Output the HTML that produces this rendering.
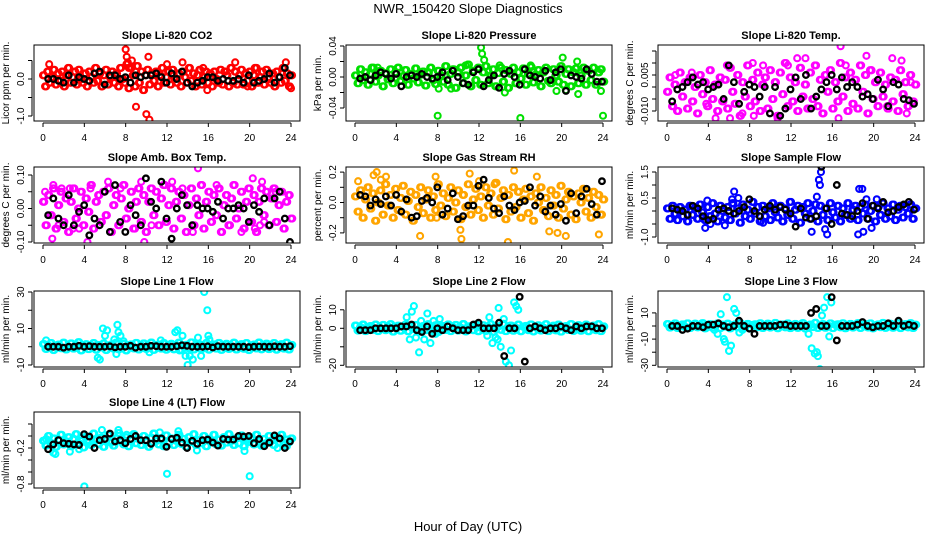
<!DOCTYPE html>
<html><head><meta charset="utf-8"><style>
body{margin:0;background:#fff;width:936px;height:540px;overflow:hidden}
svg{font-family:"Liberation Sans",Arial,sans-serif}
</style></head><body>
<svg id="chart" width="936" height="540" viewBox="0 0 936 540">
<text x="468" y="13" text-anchor="middle" font-size="13">NWR_150420  Slope Diagnostics</text>
<text x="468" y="531" text-anchor="middle" font-size="13">Hour of Day (UTC)</text>
</svg>
<script>
const xTicks=[0,4,8,12,16,20,24];
const co2Main=[0.1,-0.2,0.2,-0.1,0.05,0.25,-0.15,0.15,-0.05,0.2,-0.2,0.1,0.3,-0.1,0.05,0.2,-0.15,0.25,0,-0.1,0.15,-0.2,0.2,0.05,-0.1,0.3,-0.05,0.15,-0.2,0.1,0.25,-0.15,0.05,0.2,-0.1,0.15,-0.2,0.3,0,-0.1,0.4,-0.25,0.3,0.1,-0.2,0.35,-0.1,0.2,-0.3,0.1,0.25,-0.15,0.15,-0.05,0.2,-0.2,0.1,0.3,-0.1,0.05,0.2,-0.15,0.25,0,-0.1,0.15,-0.2,0.2,0.05,-0.1,0.3,-0.05,0.15,-0.2,0.1,0.25,-0.15,0.05,0.2,-0.1,0.15,-0.2,0.2,0,-0.1,0.25,-0.15,0.2,0.1,-0.2,0.3,-0.1,0.2,-0.15,0.1,0.25,-0.15,0.15,-0.05,0.2,-0.2,0.1,0.3,-0.1,0.05,0.2,-0.15,0.25,0,-0.1,0.15,-0.2,0.2,0.05,-0.1,0.3,-0.05,0.15,-0.2,0.1];
const co2OutH=[0.6,8.0,8.1,8.2,8.3,8.6,9.0,10.0,10.3,10.2,12.0,13.5,15.5,15.9,18.6,19.8,20.5,23.5,24.0];
const co2OutV=[0.4,0.8,0.6,0.45,0.3,0.5,-0.75,-0.95,-1.1,0.6,0.4,0.45,0.3,-0.3,0.45,-0.2,0.3,0.45,-0.25];
const co2Black=[0.0,0.0,-0.05,-0.1,0.1,-0.1,0.05,0.0,-0.05,0.15,0.2,-0.15,0.1,0.1,0.0,0.05,-0.1,0.1,0.05,0.1,0.1,0.15,0.05,-0.1,0.15,0.0,0.2,-0.1,-0.2,-0.1,-0.05,0.05,0.05,-0.05,0.0,-0.05,-0.05,0.0,-0.1,0.1,-0.1,-0.05,0.0,0.15,-0.1,0.05,0.3,0.1];
const presMain=[0.002,-0.008,0.01,-0.004,0.006,-0.01,0.004,0.012,-0.006,0.002,0.008,-0.012,0.005,-0.003,0.01,-0.008,0.006,0.012,-0.005,0.001,0.009,-0.01,0.004,-0.002,0.011,-0.007,0.003,0.007,-0.011,0.006,0.012,-0.004,-0.009,0.008,0.002,-0.006,0.014,-0.01,0.004,0.01,-0.014,0.006,0.012,-0.008,0.002,0.016,-0.012,0.008,-0.004,0.012,-0.01,0.006,0.014,-0.008,0.002,0.01,-0.012,0.005,0.012,-0.006,0.009,-0.014,0.004,0.012,-0.008,0.006,-0.002,0.011,-0.01,0.004,0.013,-0.007,0.003,0.009,-0.012,0.006,0.012,-0.005,-0.008,0.01,0.002,-0.006,0.014,-0.01,0.004,0.01,-0.012,0.006,0.011,-0.008,0.002,0.012,-0.01,0.008,-0.004,0.012,-0.01,0.006,0.01,-0.006];
const presOutH=[1.6,2.2,8.0,8.1,9.3,10.7,12.2,12.3,12.5,14.0,14.5,16.0,17.0,19.5,20.1,20.4,21.5,21.6,23.8,24.0];
const presOutV=[0.012,0.012,-0.05,-0.015,-0.015,0.015,0.038,0.03,0.022,0.015,-0.02,-0.053,0.015,-0.018,0.025,-0.017,0.02,-0.022,-0.018,-0.05];
const presBlack=[-0.002,0.0,-0.004,0.002,0.006,0.004,-0.002,0.004,-0.012,0.0,0.002,0.0,0.004,0.0,-0.002,0.0,0.006,-0.004,0.008,0.0,-0.008,-0.01,0.006,0.01,-0.012,-0.004,0.002,-0.014,0.004,0.008,0.0,-0.01,0.01,0.002,0.0,-0.002,0.008,-0.004,0.006,0.01,-0.018,0.002,0.0,-0.002,0.01,0.004,-0.006,-0.006];
const tempMain=[-0.002,0.004,-0.008,0.001,-0.01,0.006,-0.004,0.002,-0.009,0.004,-0.006,0.0,-0.011,0.005,-0.003,0.002,-0.008,0.007,-0.005,0.001,-0.01,0.004,-0.006,0.003,-0.009,0.008,-0.002,-0.007,0.005,-0.012,0.002,-0.004,0.009,-0.008,0.003,-0.006,0.006,-0.01,0.001,0.004,-0.009,0.007,-0.005,0.002,-0.012,0.006,-0.003,0.01,-0.008,0.004,-0.006,0.002,-0.01,0.008,-0.004,0.001,-0.009,0.006,-0.005,0.009,-0.008,0.003,-0.011,0.005,-0.002,0.007,-0.009,0.002,-0.006,0.01,-0.004,0.004,-0.01,0.006,-0.007,0.003,-0.009,0.009,-0.002,0.005,-0.011,0.007,-0.005,0.002,-0.008,0.006,-0.004,0.001,-0.009,0.004,-0.006,0.003,-0.01,0.007,-0.003,0.002,-0.008,0.005,-0.006,0.001];
const tempOutH=[0.8,2.4,3.8,4.7,5.8,6.1,7.3,8.3,8.4,9.3,9.9,10.7,11.7,12.6,13.4,16.8,16.6,17.3,19.3,19.8,21.3,21.8,22.7,23.2,23.6];
const tempOutV=[0.005,0.006,-0.007,-0.013,0.009,-0.013,-0.011,0.01,-0.012,0.009,-0.016,-0.013,0.009,0.012,0.012,0.017,-0.013,0.009,0.013,0.007,-0.008,0.012,0.011,-0.011,0.002];
const tempBlack=[-0.006,-0.001,0.0,0.002,0.004,0.001,0.002,-0.001,0.0,0.001,-0.005,0.009,0.002,-0.007,-0.002,0.001,0.0,-0.004,0.0,-0.011,0.0,-0.012,-0.009,-0.001,0.004,-0.005,0.005,-0.009,-0.004,-0.001,0.002,0.005,-0.001,0.004,0.0,0.002,0.0,-0.004,-0.003,-0.005,0.003,-0.001,-0.008,0.002,0.001,-0.005,-0.0055,-0.007];
const ambMain=[0.02,-0.05,0.04,-0.02,0.06,-0.06,0.01,0.05,-0.04,0.03,-0.07,0.02,0.06,-0.03,0.0,0.05,-0.05,0.03,-0.01,0.07,-0.06,0.02,0.04,-0.04,0.05,-0.02,0.06,-0.07,0.01,0.04,-0.05,0.03,0.07,-0.03,0.0,0.05,-0.06,0.02,0.06,-0.04,0.04,-0.07,0.02,0.06,-0.02,0.05,-0.05,0.03,0.07,-0.04,0.01,0.06,-0.06,0.02,0.05,-0.03,0.04,-0.07,0.01,0.06,-0.05,0.03,-0.02,0.07,-0.06,0.02,0.05,-0.04,0.04,-0.02,0.06,-0.07,0.01,0.04,-0.05,0.03,0.07,-0.03,0.0,0.05,-0.06,0.02,0.06,-0.04,0.04,-0.07,0.02,0.06,-0.02,0.05,-0.05,0.03,0.06,-0.04,0.01,0.05,-0.06,0.02,0.04,-0.03];
const ambOutH=[0.2,0.9,1.0,1.5,1.8,2.6,2.9,3.5,4.3,4.6,6.3,7.5,8.9,9.5,9.8,10.5,11.8,12.5,13.5,14.5,15.0,16.8,18.1,19.2,20.3,20.5,21.0,21.2,21.4,22.5];
const ambOutV=[0.05,-0.09,0.07,-0.05,0.06,0.06,-0.06,-0.06,-0.1,0.06,0.08,0.06,-0.06,0.08,-0.1,-0.05,0.07,0.08,0.06,-0.07,0.12,0.07,-0.05,-0.07,0.09,-0.06,-0.05,0.08,-0.04,0.05];
const ambBlack=[-0.02,0.03,-0.03,-0.05,0.04,-0.05,-0.01,0.01,-0.08,-0.03,-0.05,0.05,-0.07,0.07,-0.04,-0.07,0.01,-0.02,-0.05,0.09,0.02,0.0,0.08,-0.03,-0.09,0.0,0.04,0.01,-0.05,0.01,0.0,0.0,-0.01,0.02,-0.03,0.0,0.0,0.01,0.0,-0.04,0.01,-0.01,0.03,-0.05,0.03,0.05,-0.03,-0.1];
const rhMain=[0.04,-0.06,0.08,-0.1,0.02,0.1,-0.04,0.06,-0.12,0.0,0.08,-0.08,0.12,-0.02,0.05,-0.1,0.09,-0.05,0.03,0.11,-0.08,0.01,0.07,-0.12,0.05,-0.03,0.1,-0.07,0.02,0.08,-0.1,0.04,-0.05,0.12,-0.02,0.06,-0.09,0.03,0.1,-0.06,0.0,0.08,-0.11,0.05,-0.03,0.12,-0.08,0.02,0.09,-0.05,0.04,-0.1,0.1,-0.02,0.06,-0.08,0.13,-0.04,0.03,0.08,-0.11,0.05,-0.06,0.1,-0.03,0.07,-0.1,0.02,0.09,-0.07,0.04,-0.12,0.06,0.0,0.1,-0.05,0.03,-0.09,0.08,-0.02,0.05,-0.1,0.11,-0.04,0.02,0.07,-0.08,0.04,-0.11,0.06,0.0,0.09,-0.06,0.03,-0.1,0.07,-0.03,0.05,-0.08,0.02];
const rhOutH=[0.3,1.8,2.1,2.5,3.0,6.3,7.8,10.2,10.3,11.1,12.0,14.8,15.4,18.8,19.6,20.4,23.6,23.9,7.9,13.5,17.6];
const rhOutV=[0.14,0.18,0.2,0.15,0.17,-0.22,0.17,-0.18,-0.24,0.19,0.14,-0.26,0.21,-0.19,-0.2,-0.22,-0.21,-0.08,-0.1,0.12,0.17];
const rhBlack=[0.05,0.04,-0.02,0.02,-0.01,0.04,-0.02,0.05,-0.06,0.02,-0.1,-0.09,0.01,0.03,0.0,0.1,-0.08,-0.04,0.06,-0.11,-0.09,-0.02,-0.02,0.11,0.15,0.03,-0.04,-0.07,0.04,-0.02,-0.05,0.0,0.01,0.1,-0.02,0.04,-0.06,-0.02,-0.08,-0.01,-0.12,0.06,-0.07,0.04,0.09,-0.01,-0.08,0.14];
const sfMain=[0.1,-0.3,0.2,-0.1,-0.35,0.15,-0.2,0.05,-0.4,0.2,-0.15,0.1,-0.3,0.25,-0.05,-0.35,0.15,-0.2,0.3,-0.1,-0.4,0.2,0.0,-0.25,0.15,-0.35,0.3,-0.1,0.1,-0.45,0.25,-0.2,0.05,-0.3,0.35,-0.1,0.15,-0.4,0.2,-0.2,0.1,-0.35,0.3,-0.05,-0.25,0.2,-0.4,0.1,-0.15,0.35,-0.3,0.05,0.2,-0.45,0.15,-0.1,0.3,-0.3,0.0,0.25,-0.4,0.2,-0.15,0.1,-0.35,0.3,-0.05,-0.25,0.2,-0.4,0.1,-0.15,0.3,-0.3,0.05,0.2,-0.35,0.15,-0.1,0.25,-0.3,0.0,0.2,-0.4,0.15,-0.15,0.3,-0.3,0.1,-0.2,0.25,-0.35,0.05,0.2,-0.25,0.15,-0.1,0.25,-0.3,0.1];
const sfOutH=[3.7,5.6,6.3,6.5,6.9,14.0,14.5,14.7,14.8,14.9,15.3,15.5,18.5,18.6,18.9,19.0,19.3,19.8,20.3,3.9,4.2,9.3];
const sfOutV=[-0.65,-0.55,0.45,0.75,0.5,-0.8,0.55,1.2,1.0,1.5,-0.7,-0.9,-0.9,0.85,0.85,-0.8,0.45,-0.65,0.45,0.4,-0.5,-0.45];
const sfBlack=[0.1,0.05,0.0,-0.15,0.2,0.1,-0.2,-0.35,-0.3,0.05,0.1,0.0,-0.1,0.0,0.15,0.45,0.0,-0.2,0.05,0.2,0.05,0.15,0.05,-0.1,-0.6,0.1,-0.25,-0.3,-0.2,1.7,0.1,-0.5,1.0,-0.1,-0.15,-0.2,0.0,0.3,-0.3,0.2,0.1,0.35,-0.05,0.0,0.15,0.25,0.35,0.05];
const l1Main=[1.5,-1.2,0.5,2.0,-1.8,0.2,1.2,-0.8,2.2,-1.5,0.0,1.8,-1.0,0.8,2.5,-2.0,0.3,1.4,-1.3,0.6,2.0,-1.6,1.0,-0.4,1.8,-1.8,0.4,1.2,-1.0,2.2,-1.4,0.1,1.6,-2.0,0.8,1.3,-0.9,2.1,-1.5,0.5,1.8,-1.2,0.2,2.3,-1.7,0.9,1.2,-1.0,2.0,-1.6,0.4,1.6,-1.4,0.7,2.2,-1.9,0.3,1.1,-0.8,2.4,-1.5,0.6,1.5,-1.3,0.2,2.0,-1.6,0.9,1.3,-1.0,2.1,-1.7,0.5,1.6,-1.2,0.2,2.2,-1.5,0.8,1.4,-1.1,2.0,-1.8,0.4,1.2,-0.9,2.3,-1.4,0.6,1.7,-1.3,0.1,2.0,-1.6,0.9,1.4,-1.0,2.2,-1.5,1.0];
const l1OutH=[0.3,5.3,5.5,5.8,6.0,6.2,6.9,7.1,7.2,7.3,7.5,7.8,10.3,11.4,12.8,13.0,13.2,13.5,13.8,14.0,14.2,14.5,15.0,15.3,15.6,15.9,16.0,16.1];
const l1OutV=[3.5,-6,-7,10,6,9,4,-4,12,8,6,3,-3,3.5,8,9,-2,6,-5,-10,-5,-7,5,-5,30,20,6,4];
const l1Black=[0,0,0,-0.5,0,0,0.5,0,0.3,0,0,0,0.2,-0.3,0,0,0.5,-0.5,0,0,0.5,0.3,0,0,0,0.3,0.8,0.5,0,0,0,0.2,-0.4,0.3,0,0,0,0,0,-0.2,0,0.1,0,0,0.2,0,0,0.3];
const l2Main=[1.5,-1.2,0.5,2.0,-1.5,0.2,1.2,-0.8,2.0,-1.5,0.0,1.8,-1.0,0.8,2.2,-1.8,0.3,1.4,-1.3,0.6,2.0,-1.6,1.0,-0.4,1.8,-1.8,0.4,1.2,-1.0,2.2,-1.4,0.1,1.6,-2.0,0.8,1.3,-0.9,2.1,-1.5,0.5,1.8,-1.2,0.2,2.3,-1.7,0.9,1.2,-1.0,2.0,-1.6,0.4,1.6,-1.4,0.7,2.2,-1.9,0.3,1.1,-0.8,2.4,-1.5,0.6,1.5,-1.3,0.2,2.0,-1.6,0.9,1.3,-1.0,2.1,-1.7,0.5,1.6,-1.2,0.2,2.2,-1.5,0.8,1.4,-1.1,2.0,-1.8,0.4,1.2,-0.9,2.3,-1.4,0.6,1.7,-1.3,0.1,2.0,-1.6,0.9,1.4,-1.0,2.2,-1.5,1.0];
const l2OutH=[5.0,5.3,5.5,5.7,5.9,6.2,6.4,6.7,7.0,7.3,7.6,7.8,8.2,12.8,13.0,13.3,13.6,13.9,14.1,14.4,14.6,14.9,15.1,15.4,15.6,15.8,13.8];
const l2OutV=[6,-6,9,12,-5,-13,4,-6,8,-8,4,-3,5,-4,6,-8,-5,11,-10,5,-18,-20,-12,14,12,10,-6];
const l2Black=[-1,-1,-1,0,0,0,0,0,1,1,2,-1,-2,1,-3,0,-1,1,0,-1,-1,-1,2,3,0,0,0,3,-15,0,0,17,-18,0,1,0,-1,0,0,1,0,-1,1,0,1,1,0,0];
const l3Main=[1.5,-1.2,0.5,2.0,-1.5,0.2,1.2,-0.8,2.0,-1.5,0.0,1.8,-1.0,0.8,2.2,-1.8,0.3,1.4,-1.3,0.6,2.0,-1.6,1.0,-0.4,1.8,-1.8,0.4,1.2,-1.0,2.2,-1.4,0.1,1.6,-2.0,0.8,1.3,-0.9,2.1,-1.5,0.5,1.8,-1.2,0.2,2.3,-1.7,0.9,1.2,-1.0,2.0,-1.6,0.4,1.6,-1.4,0.7,2.2,-1.9,0.3,1.1,-0.8,2.4,-1.5,0.6,1.5,-1.3,0.2,2.0,-1.6,0.9,1.3,-1.0,2.1,-1.7,0.5,1.6,-1.2,0.2,2.2,-1.5,0.8,1.4,-1.1,2.0,-1.8,0.4,1.2,-0.9,2.3,-1.4,0.6,1.7,-1.3,0.1,2.0,-1.6,0.9,1.4,-1.0,2.2,-1.5,1.0];
const l3OutH=[4.6,4.9,5.2,5.5,5.6,5.8,6.0,6.2,6.5,6.7,7.0,7.3,13.7,14.0,14.3,14.6,14.8,15.0,15.2,15.5,15.7,15.9,14.5];
const l3OutV=[-3,-6,9,-10,-12,22,-19,-15,13,10,-5,-3,-6,-17,-21,-23,-33,8,14,22,-8,18,-20];
const l3Black=[0,0,-3,-2,0,0,-1,1,1,2,0,-1,0,4,0,-2,-6,0,0,0,0,1,1,0,0,0,0,10,13,0,0,22,-11,0,0,0,1,3,0,-1,0,0,2,0,4,0,1,0];
const l4Main=[-0.08,-0.16,0.0,-0.12,-0.04,-0.18,-0.06,0.02,-0.14,-0.09,-0.02,-0.17,-0.05,0.03,-0.12,-0.08,-0.19,-0.01,-0.1,-0.15,0.04,-0.07,-0.13,-0.03,-0.18,-0.06,0.02,-0.11,-0.16,-0.04,0.05,-0.09,-0.14,-0.02,-0.17,-0.07,0.03,-0.12,-0.05,-0.15,0.0,-0.1,-0.18,-0.03,0.04,-0.08,-0.14,-0.06,-0.17,0.01,-0.11,-0.04,-0.15,-0.08,0.02,-0.13,-0.05,-0.18,-0.02,-0.1,0.03,-0.15,-0.07,-0.12,0.0,-0.17,-0.05,-0.09,0.02,-0.14,-0.06,-0.16,-0.02,-0.11,0.03,-0.08,-0.15,-0.04,-0.12,0.01,-0.17,-0.07,-0.1,-0.03,-0.14,0.02,-0.09,-0.16,-0.05,-0.12,0.0,-0.08,-0.15,-0.03,-0.11,0.02,-0.14,-0.06,-0.1,-0.04];
const l4OutH=[0.3,1.0,1.2,2.6,3.5,4.0,4.3,5.7,7.3,8.1,11.3,12.0,13.1,14.9,16.3,19.5,20.0,22.7,23.6];
const l4OutV=[-0.05,-0.28,-0.3,-0.26,-0.22,-0.84,-0.07,0.1,0.1,0.02,0.06,-0.63,0.08,-0.24,-0.07,-0.25,-0.67,-0.2,-0.17];
const l4Black=[-0.22,-0.14,-0.07,-0.12,-0.13,-0.14,-0.15,0.03,-0.01,-0.2,-0.07,-0.05,0.04,-0.09,-0.07,-0.12,-0.05,0.0,-0.07,-0.07,-0.13,-0.04,-0.04,-0.18,-0.05,-0.03,-0.11,-0.2,-0.08,-0.13,-0.07,-0.06,-0.11,-0.16,-0.05,-0.06,-0.06,0.0,-0.01,0.0,-0.12,-0.05,-0.17,-0.11,0.01,-0.04,-0.2,-0.09];

const panels=[
 {id:'co2',title:'Slope Li-820 CO2',ylab:'Licor ppm per min.',col:0,row:0,py0:79,ppu:37,ticks:[-1,-0.5,0,0.5],labs:['-1.0','','0.0',''],color:'#ff0000',main:co2Main,oh:co2OutH,ov:co2OutV,blk:co2Black},
 {id:'pressure',title:'Slope Li-820 Pressure',ylab:'kPa per min.',col:1,row:0,py0:77,ppu:775,ticks:[-0.04,-0.02,0,0.02,0.04],labs:['-0.04','','0.00','','0.04'],color:'#00e000',main:presMain,oh:presOutH,ov:presOutV,blk:presBlack},
 {id:'temp',title:'Slope Li-820 Temp.',ylab:'degrees C per min.',col:2,row:0,py0:87,ppu:2400,ticks:[-0.01,-0.005,0,0.005,0.01,0.015],labs:['-0.010','','','0.005','',''],color:'#ff00ff',main:tempMain,oh:tempOutH,ov:tempOutV,blk:tempBlack},
 {id:'amb',title:'Slope Amb. Box Temp.',ylab:'degrees C per min.',col:0,row:1,py0:208.5,ppu:335,ticks:[-0.1,-0.05,0,0.05,0.1],labs:['-0.10','','0.00','','0.10'],color:'#ff00ff',main:ambMain,oh:ambOutH,ov:ambOutV,blk:ambBlack},
 {id:'rh',title:'Slope Gas Stream RH',ylab:'percent per min.',col:1,row:1,py0:202.5,ppu:152,ticks:[-0.2,-0.1,0,0.1,0.2],labs:['-0.2','','0.0','','0.2'],color:'#ffa500',main:rhMain,oh:rhOutH,ov:rhOutV,blk:rhBlack},
 {id:'sample-flow',title:'Slope Sample Flow',ylab:'ml/min per min.',col:2,row:1,py0:211,ppu:26,ticks:[-1,-0.5,0,0.5,1,1.5],labs:['-1.0','','','0.5','','1.5'],color:'#0000ff',main:sfMain,oh:sfOutH,ov:sfOutV,blk:sfBlack},
 {id:'line1',title:'Slope Line 1 Flow',ylab:'ml/min per min.',col:0,row:2,py0:346.75,ppu:1.825,ticks:[-10,0,10,20,30],labs:['-10','','10','','30'],color:'#00ffff',main:l1Main,oh:l1OutH,ov:l1OutV,blk:l1Black},
 {id:'line2',title:'Slope Line 2 Flow',ylab:'ml/min per min.',col:1,row:2,py0:328.3,ppu:1.85,ticks:[-20,-10,0,10],labs:['-20','','0','10'],color:'#00ffff',main:l2Main,oh:l2OutH,ov:l2OutV,blk:l2Black},
 {id:'line3',title:'Slope Line 3 Flow',ylab:'ml/min per min.',col:2,row:2,py0:326,ppu:1.31,ticks:[-30,-20,-10,0,10],labs:['-30','','-10','','10'],color:'#00ffff',main:l3Main,oh:l3OutH,ov:l3OutV,blk:l3Black},
 {id:'line4',title:'Slope Line 4 (LT) Flow',ylab:'ml/min per min.',col:0,row:3,py0:436,ppu:60,ticks:[-0.8,-0.6,-0.4,-0.2,0,0.2],labs:['-0.8','','','-0.2','',''],color:'#00ffff',main:l4Main,oh:l4OutH,ov:l4OutV,blk:l4Black}
];
const NS='http://www.w3.org/2000/svg';
const svg=document.getElementById('chart');
function mk(tag,attrs,parent){const e=document.createElementNS(NS,tag);for(const k in attrs)e.setAttribute(k,attrs[k]);parent.appendChild(e);return e;}
const colLeft=[34,346,658], rowTop=[45,167,291,412];
panels.forEach(p=>{
  const L=colLeft[p.col],T=rowTop[p.row],W=266,H=76;
  const x0=L+9, xs=h=>x0+h*248/24;
  const ys=v=>p.py0-v*p.ppu;
  const g=mk('g',{},svg);
  
  
  const cp=mk('clipPath',{id:'cp-'+p.id},g);
  mk('rect',{x:L,y:T,width:W,height:H},cp);
  const t=mk('text',{x:L+W/2,y:T-6,'text-anchor':'middle','font-size':11,'font-weight':'bold'},g);
  t.textContent=p.title;
  
  
  const yl=mk('text',{transform:`translate(${L-25},${T+H/2}) rotate(-90)`,'text-anchor':'middle','font-size':10},g);
  yl.textContent=p.ylab;
  
  
  const pts=mk('g',{'clip-path':`url(#cp-${p.id})`,fill:'none','stroke-width':2.1},g);
  
  
  const n=p.main.length, step=24/(n-1);
  p.main.forEach((v,i)=>{
    const c=mk('circle',{cx:xs(i*step),cy:ys(v),r:3,stroke:p.color},pts);
    
    
    const c2=mk('circle',{cx:xs(i*step+step/2),cy:ys(v),r:3,stroke:p.color},pts);
    
    
  });
  p.oh.forEach((h,i)=>{
    const c=mk('circle',{cx:xs(h),cy:ys(p.ov[i]),r:3,stroke:p.color},pts);
    
    
  });
  const m=p.blk.length;
  p.blk.forEach((v,i)=>{
    const c=mk('circle',{cx:xs(0.5+i*23.4/(m-1)),cy:ys(v),r:2.8,stroke:'#000','stroke-width':2.3},pts);
    
    
  });
  const box=mk('rect',{x:L,y:T,width:W,height:H,fill:'none',stroke:'#000','stroke-width':1},g);
  
  
  const ax=mk('g',{stroke:'#000','stroke-width':1},g);
  
  
  mk('line',{x1:xs(0),x2:xs(24),y1:T+H+2,y2:T+H+2},ax);
  xTicks.forEach(h=>{
    mk('line',{x1:xs(h),x2:xs(h),y1:T+H+2,y2:T+H+6},ax);
    const tl=mk('text',{x:xs(h),y:T+H+20,'text-anchor':'middle','font-size':10,stroke:'none'},ax);
    tl.textContent=h;
    
    
  });
  const ay=mk('g',{stroke:'#000','stroke-width':1},g);
  
  
  mk('line',{x1:L-2,x2:L-2,y1:ys(p.ticks[0]),y2:ys(p.ticks[p.ticks.length-1])},ay);
  p.ticks.forEach((v,i)=>{
    const y=ys(v);
    mk('line',{x1:L-2,x2:L-6,y1:y,y2:y},ay);
    if(p.labs[i]){
      const tl=mk('text',{transform:`translate(${L-10},${y}) rotate(-90)`,'text-anchor':'middle','font-size':10,stroke:'none'},ay);
      tl.textContent=p.labs[i];
      
      
    }
  });
});
</script>
</body></html>
